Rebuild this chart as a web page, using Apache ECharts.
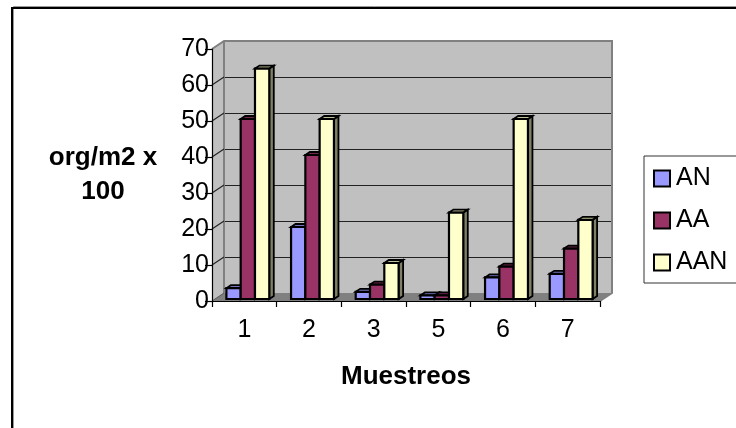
<!DOCTYPE html>
<html><head><meta charset="utf-8">
<style>html,body{margin:0;padding:0;background:#fff}#c{width:736px;height:428px}</style>
<script src="https://cdn.jsdelivr.net/npm/echarts@6/dist/echarts.min.js"></script></head>
<body><div id="c"></div>
<script>
var categories = ['1','2','3','5','6','7'];
var AN = [3,20,2,1,6,7];
var AA = [50,40,4,1,9,14];
var AAN = [64,50,10,24,50,22];
var yTicks = {min:0,max:70,interval:10};
var FONT = '"Liberation Sans", Arial, sans-serif';
var WALL_DX = 12, WALL_DY = -8, BAR_DX = 4.5, BAR_DY = -3, BAR_W = 14.3;
var chart = echarts.init(document.getElementById('c'), null, {renderer:'canvas'});

function pairs(a){ return a.map(function(v,i){ return [i,v]; }); }

function barSeries(name, data, idx, color, top, side){
  return {
    name:name, type:'custom', xAxisIndex:0, yAxisIndex:0, z:10+idx, clip:false,
    data:pairs(data), itemStyle:{color:color, borderColor:'#000', borderWidth:2},
    encode:{x:0,y:1},
    renderItem:function(params, api){
      var base = api.coord([api.value(0),0]);
      var tip = api.coord([api.value(0),api.value(1)]);
      var cx = base[0] + 3.5 + (idx-1)*BAR_W;
      var l = cx-BAR_W/2, r = cx+BAR_W/2, b = base[1]-2, t = tip[1]-2;
      return {type:'group', children:[
        {type:'polygon', shape:{points:[[r,t],[r+BAR_DX,t+BAR_DY],[r+BAR_DX,b+BAR_DY],[r,b]]}, style:{fill:side, stroke:'#000', lineWidth:1.8}},
        {type:'polygon', shape:{points:[[l,t],[l+BAR_DX,t+BAR_DY],[r+BAR_DX,t+BAR_DY],[r,t]]}, style:{fill:top, stroke:'#000', lineWidth:1.8}},
        {type:'rect', shape:{x:l,y:t,width:BAR_W,height:b-t}, style:{fill:color, stroke:'#000', lineWidth:2.2}}
      ]};
    }
  };
}

var walls = {
  type:'custom', xAxisIndex:0, yAxisIndex:0, z:1, clip:false, silent:true, legendHoverLink:false,
  data:[[0,0]], encode:{x:0,y:1},
  renderItem:function(params, api){
    var band = api.size([1,0])[0];
    var p0 = api.coord([0,0]), pTop = api.coord([0,yTicks.max]), pEnd = api.coord([categories.length-1,0]);
    var x0 = p0[0]-band/2, x1 = pEnd[0]+band/2, y0 = p0[1], yT = pTop[1];
    var kids = [
      {type:'polygon', shape:{points:[[x0,y0],[x0,yT],[x0+WALL_DX,yT+WALL_DY],[x0+WALL_DX,y0+WALL_DY]]}, style:{fill:'#c0c0c0', stroke:null}},
      {type:'polygon', shape:{points:[[x0,y0],[x0+WALL_DX,y0+WALL_DY],[x1+WALL_DX,y0+WALL_DY],[x1,y0]]}, style:{fill:'#808080', stroke:null}},
      {type:'polyline', shape:{points:[[x0,yT],[x0+WALL_DX,yT+WALL_DY],[x1+WALL_DX,yT+WALL_DY],[x1+WALL_DX,y0+WALL_DY],[x1,y0]]}, style:{fill:null, stroke:'#808080', lineWidth:2}},
      {type:'line', shape:{x1:x0+WALL_DX,y1:yT+WALL_DY,x2:x0+WALL_DX,y2:y0+WALL_DY}, style:{stroke:'#808080', lineWidth:2}}
    ];
    for (var v=yTicks.interval; v<yTicks.max; v+=yTicks.interval){
      var y = api.coord([0,v])[1];
      kids.push({type:'line', shape:{x1:x0,y1:y,x2:x0+WALL_DX,y2:y+WALL_DY}, style:{stroke:'#222', lineWidth:1.2}});
    }
    kids.push({type:'line', shape:{x1:x0,y1:y0,x2:x0+WALL_DX,y2:y0+WALL_DY}, style:{stroke:'#555', lineWidth:1}});
    return {type:'group', children:kids};
  }
};

chart.setOption({
  animation:false,
  backgroundColor:'#fff',
  textStyle:{fontFamily:FONT},
  graphic:[
    {type:'polyline', z:100, silent:true, shape:{points:[[13.5,428],[13.5,6.5],[736,6.5]]}, style:{fill:null, stroke:'#999', lineWidth:1}},
    {type:'polyline', z:101, silent:true, shape:{points:[[12,428],[12,8],[736,8]]}, style:{fill:null, stroke:'#000', lineWidth:2}}
  ],
  grid:[
    {left:212, top:49, width:388, height:252, containLabel:false},
    {left:224, top:41, width:388, height:252, show:true, backgroundColor:'#c0c0c0', borderWidth:0, z:0}
  ],
  xAxis:[
    {type:'category', gridIndex:0, data:categories, z:5,
     axisLine:{show:true,lineStyle:{color:'#000',width:1.2}},
     axisTick:{show:true,alignWithLabel:false,length:6,lineStyle:{color:'#000',width:1.2}},
     axisLabel:{fontSize:25,color:'#000',margin:17,fontFamily:FONT},
     name:'Muestreos', nameLocation:'middle', nameGap:63,
     nameTextStyle:{fontSize:26,fontWeight:'bold',color:'#000',fontFamily:FONT}},
    {type:'category', gridIndex:1, data:categories, show:false}
  ],
  yAxis:[
    {type:'value', gridIndex:0, min:yTicks.min, max:yTicks.max, interval:yTicks.interval, z:5,
     axisLine:{show:true,lineStyle:{color:'#000',width:1.2}},
     axisTick:{show:true,length:7,lineStyle:{color:'#000',width:1.2}},
     axisLabel:{fontSize:25,color:'#000',margin:3,fontFamily:FONT},
     splitLine:{show:false},
     name:'org/m2 x\n100', nameLocation:'middle', nameGap:109, nameRotate:0,
     nameTextStyle:{fontSize:26,fontWeight:'bold',color:'#000',lineHeight:34,align:'center',fontFamily:FONT}},
    {type:'value', gridIndex:1, min:yTicks.min, max:yTicks.max, interval:yTicks.interval,
     axisLine:{show:false}, axisTick:{show:false}, axisLabel:{show:false},
     splitLine:{show:true,lineStyle:{color:'#222',width:1}}}
  ],
  legend:{
    left:644, top:156, orient:'vertical', data:['AN','AA','AAN'],
    backgroundColor:'#fff', borderColor:'#333', borderWidth:1,
    padding:[10,22,8,9], itemWidth:16, itemHeight:16, itemGap:17, selectedMode:false,
    icon:'rect', itemStyle:{borderColor:'#000',borderWidth:2},
    textStyle:{fontSize:25,color:'#000',padding:[0,0,8,1],lineHeight:16,fontFamily:FONT}
  },
  series:[
    walls,
    barSeries('AN',AN,0,'#9999ff','#7373bf','#666699'),
    barSeries('AA',AA,1,'#993366','#73264d','#66223f'),
    barSeries('AAN',AAN,2,'#ffffcc','#bfbf99','#808066')
  ]
});
</script></body></html>
